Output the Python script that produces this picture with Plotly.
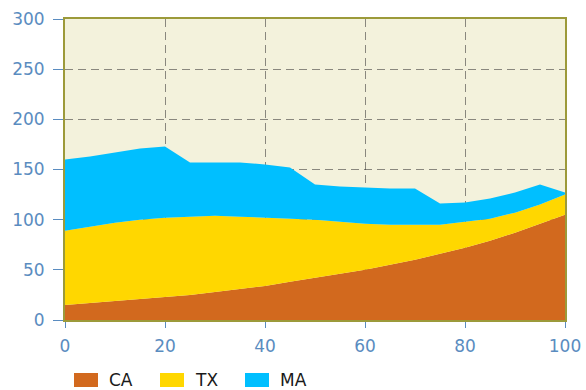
import plotly.graph_objects as go

x = [0, 5, 10, 15, 20, 25, 30, 35, 40, 45, 50, 55, 60, 65, 70, 75, 80, 85, 90, 95, 100]
ca = [15, 17, 19, 21, 23, 25, 28, 31, 34, 38, 42, 46, 50, 55, 60, 66, 72, 79, 87, 96, 105]
tx = [74, 76, 78, 79, 79, 78, 76, 72, 68, 63, 58, 52, 46, 40, 35, 29, 26, 22, 20, 19, 20]
ma = [71, 70, 70, 71, 71, 54, 53, 54, 53, 51, 35, 35, 36, 36, 36, 21, 19, 20, 20, 20, 2]

names = ["CA", "TX", "MA"]
colors = ["#D2691E", "#FFD700", "#00BFFF"]
values = [ca, tx, ma]

fig = go.Figure()
for name, vals, color in zip(names, values, colors):
    fig.add_trace(go.Scatter(
        x=x, y=vals, name=name, mode="lines", stackgroup="one",
        line=dict(width=0, color=color), fillcolor=color, showlegend=False,
    ))

# legend row under the plot: swatch + label per series
swatch_x0 = [0.018, 0.190, 0.360]
for i, (name, color) in enumerate(zip(names, colors)):
    x0 = swatch_x0[i]
    fig.add_shape(type="rect", xref="paper", yref="paper",
                  x0=x0, x1=x0 + 0.048, y0=-0.2226, y1=-0.176,
                  fillcolor=color, line=dict(width=0))
    fig.add_annotation(xref="paper", yref="paper", x=x0 + 0.066, y=-0.199,
                       text=name, showarrow=False, xanchor="left", yanchor="middle",
                       font=dict(family="DejaVu Sans", size=17, color="#1a1a1a"))

blue = "#5A8CC0"
axis_font = dict(family="DejaVu Sans", size=17, color=blue)
grid = dict(showgrid=True, gridcolor="rgba(50,50,50,0.55)", griddash="8px,5px", gridwidth=1.3)
fig.update_layout(
    width=586, height=390,
    margin=dict(l=65, r=21, t=19, b=70, autoexpand=False),
    paper_bgcolor="white", plot_bgcolor="#F3F2DC",
    showlegend=False,
    xaxis=dict(range=[0, 100], dtick=20, tickfont=axis_font, automargin=False,
               showline=True, linecolor="#9C9A3A", linewidth=2, mirror=True,
               ticks="outside", ticklen=6, tickcolor=blue, ticklabelstandoff=4,
               zeroline=False, **grid),
    yaxis=dict(range=[0, 300], dtick=50, tickfont=axis_font, automargin=False,
               showline=True, linecolor="#9C9A3A", linewidth=2, mirror=True,
               ticks="outside", ticklen=10, tickcolor=blue, ticklabelstandoff=5,
               zeroline=False, **grid),
)

fig.write_html("out.html")
